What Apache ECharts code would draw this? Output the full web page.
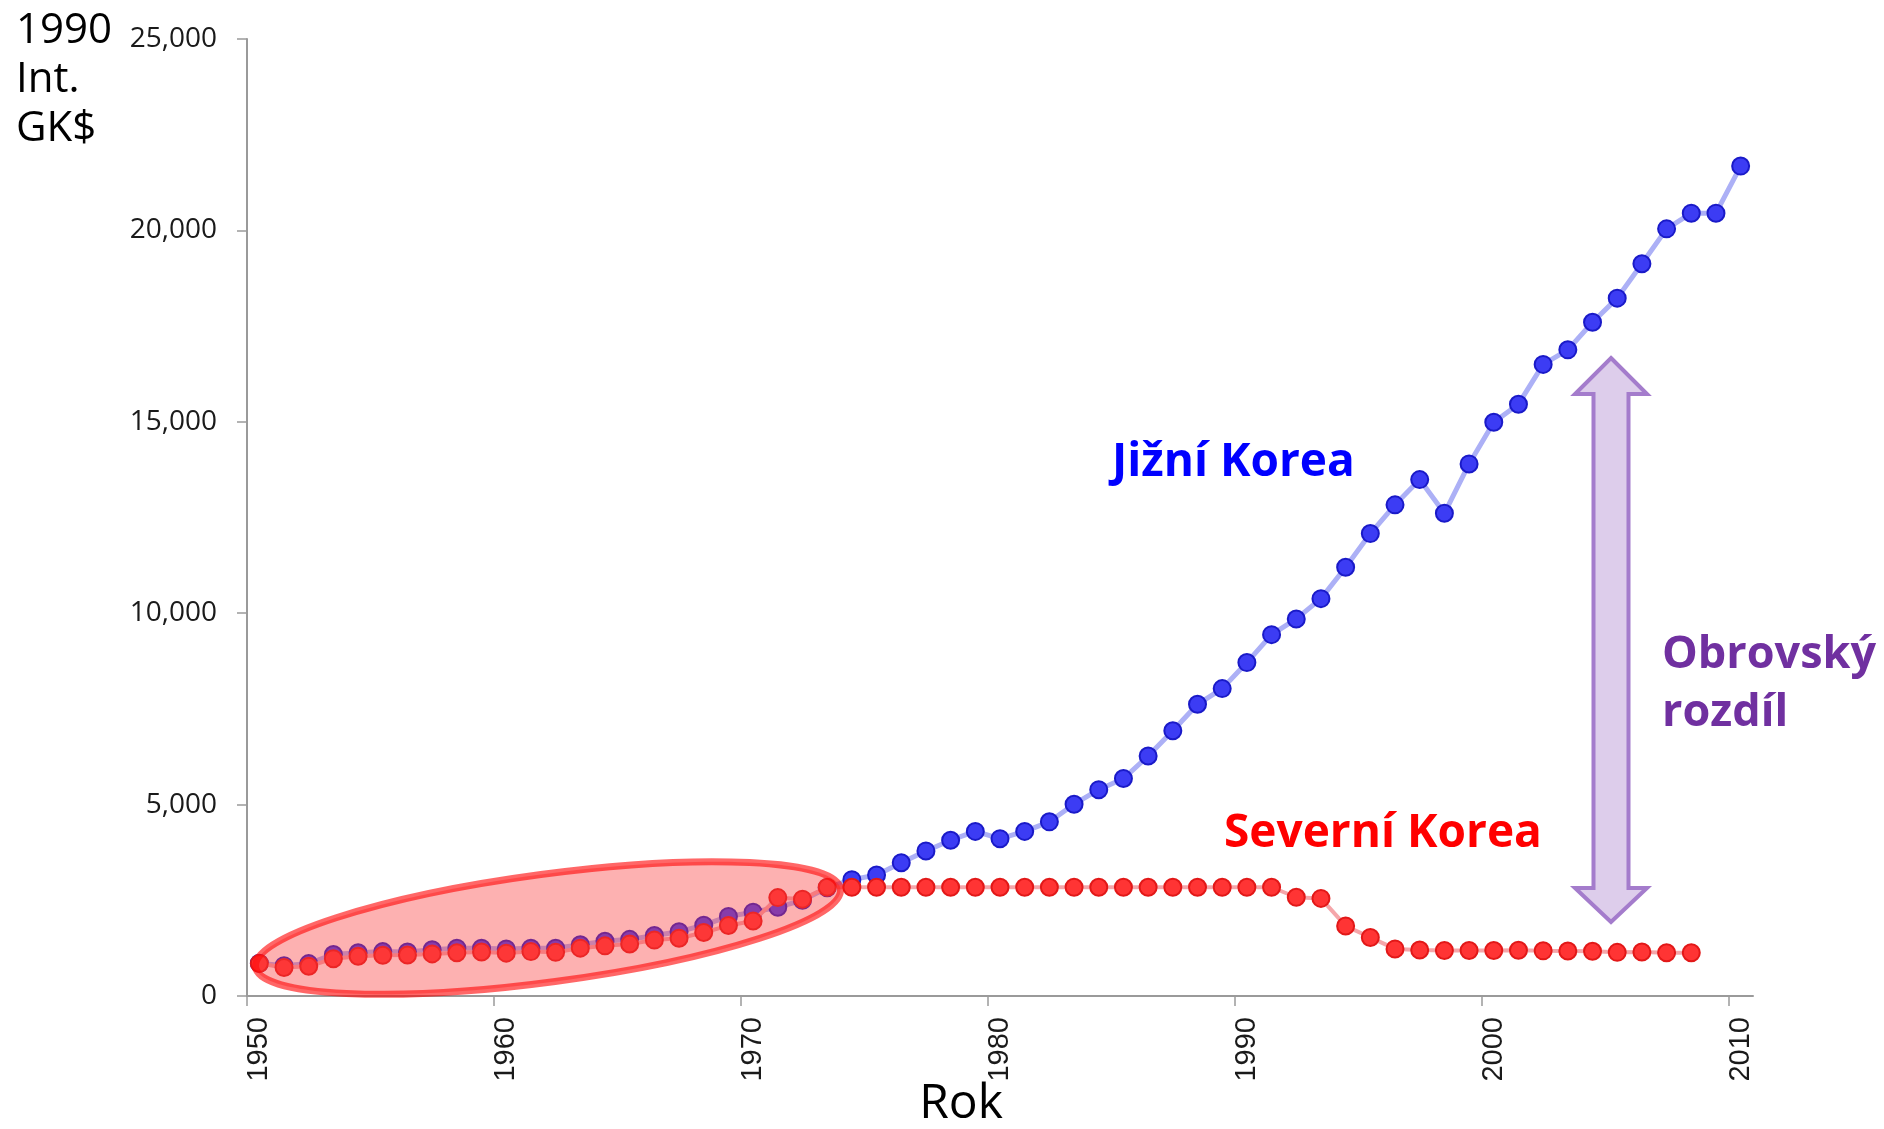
<!DOCTYPE html>
<html>
<head>
<meta charset="utf-8">
<script src="https://cdn.jsdelivr.net/npm/echarts@6/dist/echarts.min.js"></script>
<style>
html,body{margin:0;padding:0;background:#ffffff;}
#chart{width:1884px;height:1129px;}
</style>
</head>
<body>
<div id="chart"></div>
<script>
// ---- data ----
const years = ['1950','1951','1952','1953','1954','1955','1956','1957','1958','1959',
  '1960','1961','1962','1963','1964','1965','1966','1967','1968','1969',
  '1970','1971','1972','1973','1974','1975','1976','1977','1978','1979',
  '1980','1981','1982','1983','1984','1985','1986','1987','1988','1989',
  '1990','1991','1992','1993','1994','1995','1996','1997','1998','1999',
  '2000','2001','2002','2003','2004','2005','2006','2007','2008','2009','2010'];

const southKorea = [854, 790, 846, 1085, 1130, 1160, 1150, 1210, 1250, 1250,
  1230, 1250, 1250, 1340, 1430, 1480, 1580, 1680, 1850, 2080,
  2190, 2320, 2500, 2830, 3040, 3160, 3480, 3790, 4070, 4300,
  4110, 4300, 4550, 5010, 5390, 5680, 6270, 6930, 7620, 8030,
  8710, 9440, 9850, 10380, 11200, 12080, 12830, 13490, 12610, 13900,
  14990, 15460, 16500, 16880, 17600, 18230, 19130, 20040, 20450, 20450, 21680];

const northKorea = [850, 745, 776, 975, 1040, 1065, 1070, 1100, 1130, 1150,
  1120, 1160, 1140, 1250, 1310, 1360, 1460, 1510, 1660, 1840,
  1960, 2570, 2530, 2840, 2841, 2841, 2841, 2841, 2841, 2841,
  2841, 2841, 2841, 2841, 2841, 2841, 2841, 2841, 2841, 2841,
  2841, 2841, 2580, 2550, 1830, 1530, 1230, 1200, 1190, 1190,
  1190, 1195, 1180, 1175, 1170, 1140, 1150, 1130, 1130];

const yTicks = [0, 5000, 10000, 15000, 20000, 25000];
const xLabelYears = ['1950','1960','1970','1980','1990','2000','2010'];

const yTitle = '1990\nInt.\nGK$';
const xTitle = 'Rok';
const labelSouth = 'Jižní Korea';
const labelNorth = 'Severní Korea';
const labelGap = 'Obrovský\nrozdíl';

// ---- chart ----
const chart = echarts.init(document.getElementById('chart'), null, {renderer: 'canvas'});

const GRID = {left: 247, right: 131, top: 39, bottom: 133};
// tick positions (band boundaries) for the decade labels
const decadeTickIdx = xLabelYears.map(function (y) { return years.indexOf(y); });

const option = {
  animation: false,
  backgroundColor: '#ffffff',
  grid: GRID,
  xAxis: [
    {
      type: 'category',
      data: years,
      boundaryGap: true,
      position: 'bottom',
      axisLine: {show: true, lineStyle: {color: '#9a9a9a', width: 2}},
      axisTick: {show: false},
      axisLabel: {
        interval: 9,
        rotate: 90,
        margin: 21,
        fontSize: 29,
        fontFamily: '"Liberation Sans", Arial, sans-serif',
        color: '#1a1a1a',
        formatter: function (v) { return xLabelYears.indexOf(v) >= 0 ? v : ''; }
      },
      splitLine: {show: false}
    },
    {
      // helper axis used only to draw the decade tick marks at band boundaries
      type: 'value',
      position: 'bottom',
      min: 0,
      max: years.length,
      offset: 0,
      axisLine: {show: false},
      axisTick: {show: true, length: 10, customValues: decadeTickIdx,
        lineStyle: {color: '#9a9a9a', width: 1.5}},
      axisLabel: {show: false},
      splitLine: {show: false}
    }
  ],
  yAxis: {
    type: 'value',
    min: yTicks[0],
    max: yTicks[yTicks.length - 1],
    interval: yTicks[1] - yTicks[0],
    axisLine: {show: true, lineStyle: {color: '#9a9a9a', width: 2}},
    axisTick: {show: true, length: 10, lineStyle: {color: '#9a9a9a', width: 1.5}},
    axisLabel: {
      margin: 30,
      fontSize: 28,
      fontFamily: '"Open Sans", "Noto Sans", sans-serif',
      color: '#1a1a1a',
      formatter: function (v) { return Number(v).toLocaleString('en-US'); }
    },
    splitLine: {show: false}
  },
  series: [
    {
      name: labelSouth,
      type: 'line',
      xAxisIndex: 0,
      data: southKorea,
      symbol: 'circle',
      symbolSize: 17,
      showSymbol: true,
      showAllSymbol: true,
      z: 3,
      lineStyle: {color: '#acb0f6', width: 5},
      itemStyle: {color: '#3c3cf4', borderColor: '#1a1ac8', borderWidth: 2}
    },
    {
      name: labelNorth,
      type: 'line',
      xAxisIndex: 0,
      data: northKorea,
      symbol: 'circle',
      symbolSize: 17,
      showSymbol: true,
      showAllSymbol: true,
      z: 4,
      lineStyle: {color: '#f5a6aa', width: 4},
      itemStyle: {color: '#ff3434', borderColor: '#e21818', borderWidth: 2}
    }
  ],
  graphic: [
    {
      type: 'text', x: 16, y: 7, z: 50,
      style: {text: yTitle, font: '42px "Open Sans", sans-serif', lineHeight: 49, fill: '#000000',
        textAlign: 'left', textVerticalAlign: 'top'}
    },
    {
      type: 'text', x: 961, y: 1104, z: 50,
      style: {text: xTitle, font: '48px "Open Sans", sans-serif', fill: '#000000',
        textAlign: 'center', textVerticalAlign: 'middle'}
    },
    {
      type: 'text', x: 1112, y: 463, z: 50,
      style: {text: labelSouth, font: 'bold 46px "Open Sans", sans-serif', fill: '#0000ff',
        textAlign: 'left', textVerticalAlign: 'middle'}
    },
    {
      type: 'text', x: 1224, y: 834, z: 50,
      style: {text: labelNorth, font: 'bold 46px "Open Sans", sans-serif', fill: '#ff0000',
        textAlign: 'left', textVerticalAlign: 'middle'}
    },
    {
      type: 'text', x: 1662, y: 684, z: 50,
      style: {text: labelGap, font: 'bold 45px "Open Sans", sans-serif', lineHeight: 58, fill: '#7030a0',
        textAlign: 'left', textVerticalAlign: 'middle'}
    },
    {
      // highlight ellipse around the early years
      type: 'ellipse', x: 548, y: 928, rotation: 7.6 * Math.PI / 180, z: 40,
      shape: {cx: 0, cy: 0, rx: 295, ry: 54},
      style: {fill: 'rgba(250,60,60,0.40)', stroke: 'rgba(255,10,10,0.62)', lineWidth: 7}
    },
    {
      // double-headed "gap" arrow
      type: 'polygon', z: 40,
      shape: {points: [
        [1611, 358], [1647, 394], [1628.5, 394], [1628.5, 888], [1647, 888],
        [1611, 922], [1575, 888], [1593.5, 888], [1593.5, 394], [1575, 394]
      ]},
      style: {fill: '#ddcdeb', stroke: '#a47ccc', lineWidth: 4, lineJoin: 'miter'}
    }
  ]
};

chart.setOption(option);
</script>
</body>
</html>
